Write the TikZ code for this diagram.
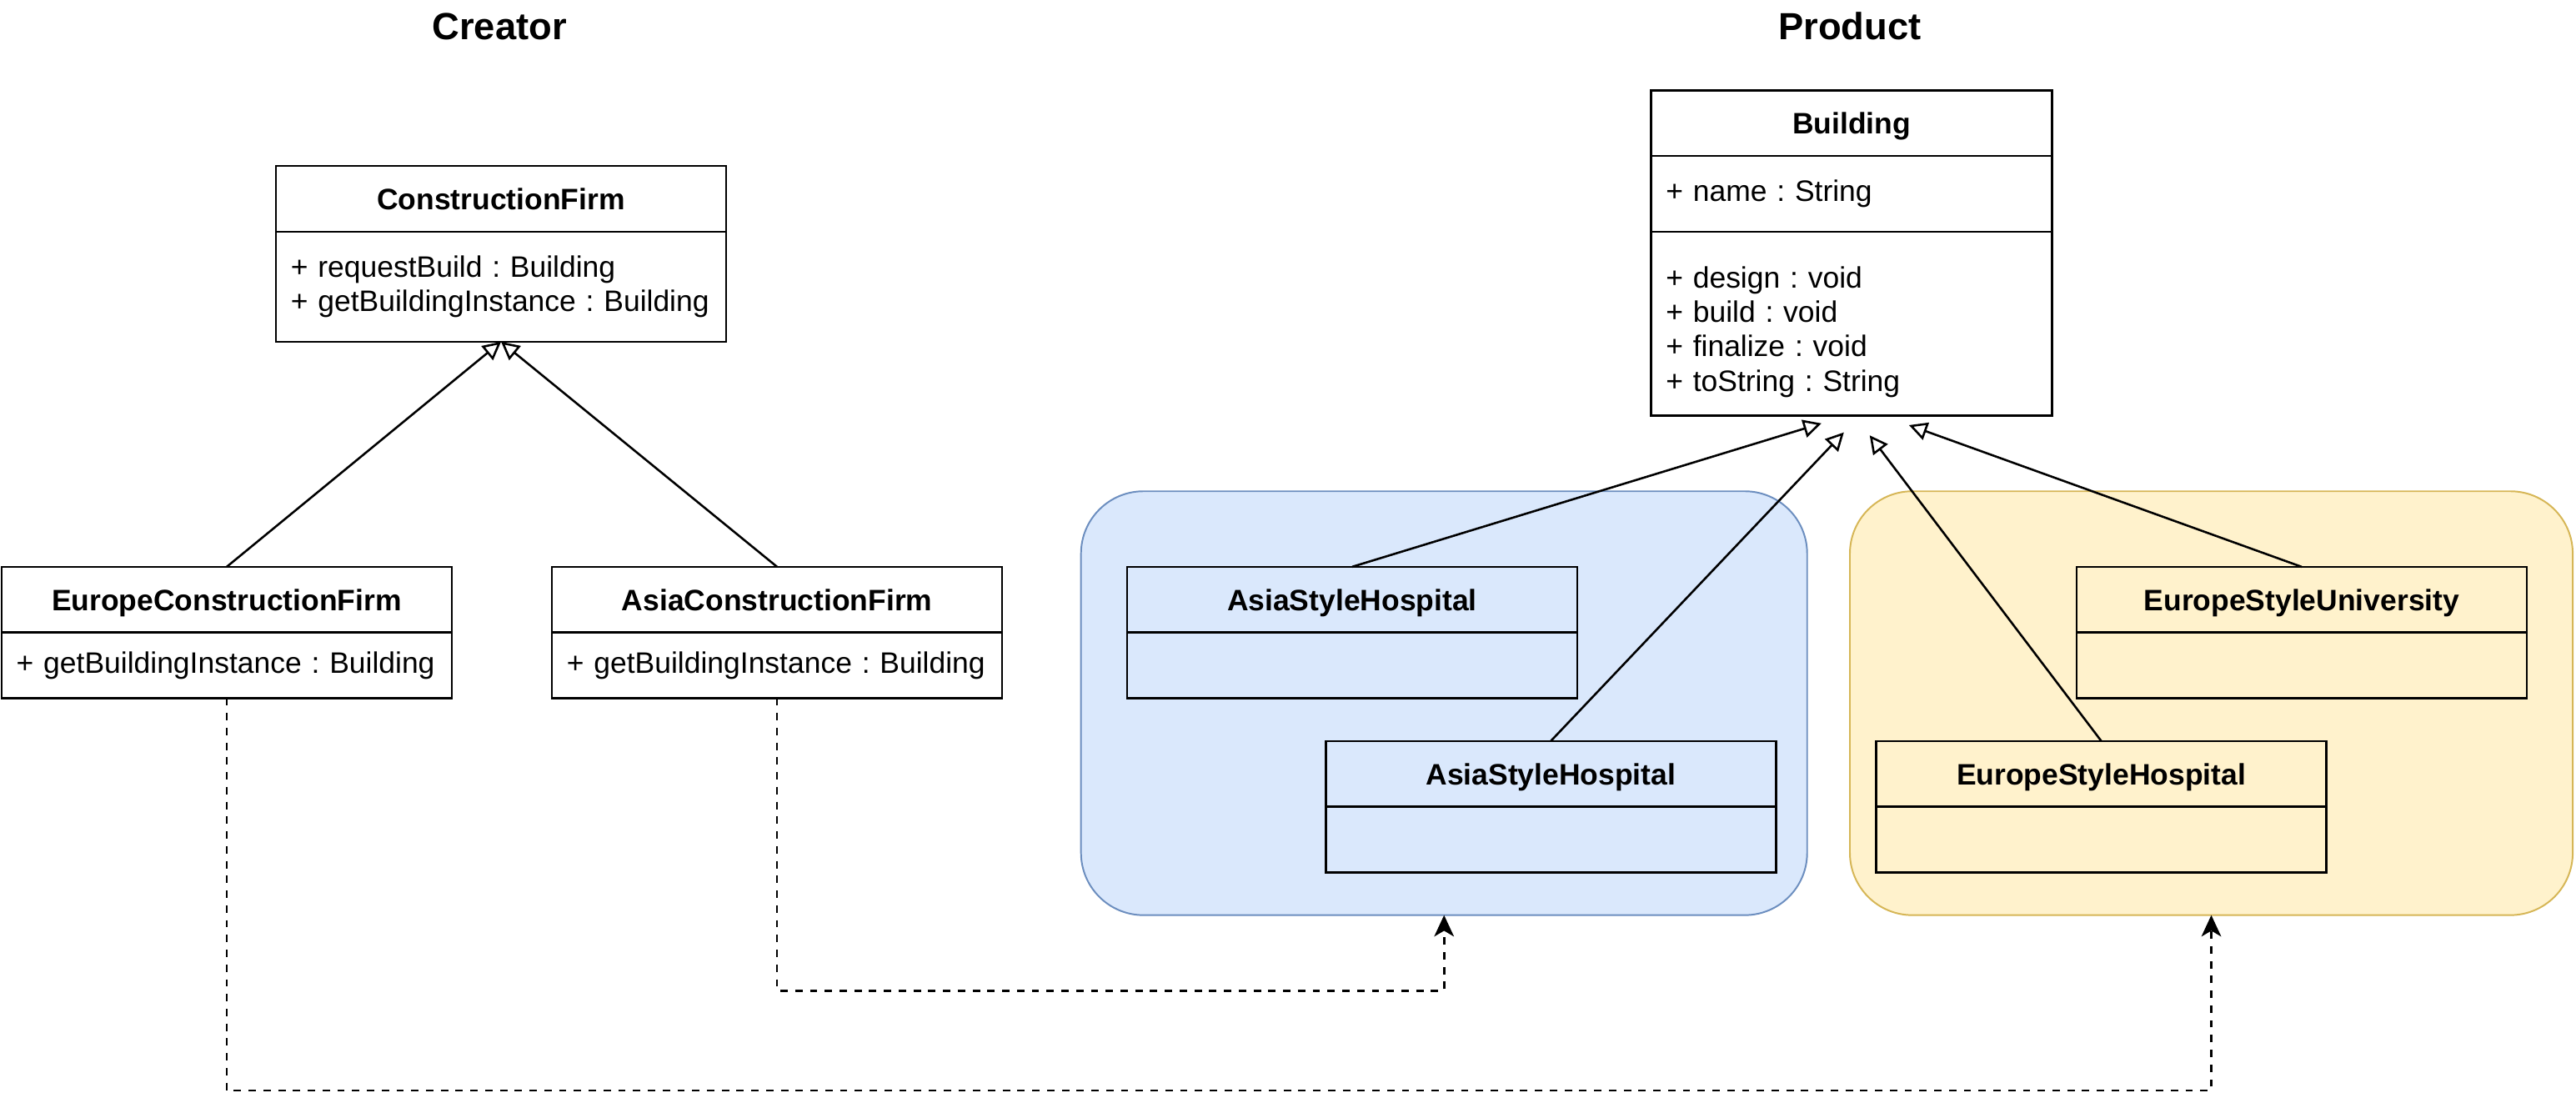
\documentclass[tikz,border=0pt]{standalone}
\usepackage{fontspec}
\setmainfont{Liberation Sans}
\usetikzlibrary{positioning,arrows.meta}

\definecolor{asiafill}{HTML}{DAE8FC}
\definecolor{asiadraw}{HTML}{6C8EBF}
\definecolor{eurofill}{HTML}{FFF2CC}
\definecolor{eurodraw}{HTML}{D6B656}

\frenchspacing
\hyphenpenalty=10000
\exhyphenpenalty=10000

\begin{document}
\begin{tikzpicture}[x=1pt, y=-1pt,
	every node/.style={draw=black, line width=1.3pt, outer sep=0pt, inner sep=0pt, font=\fontsize{18}{21}\selectfont},
	head/.style={minimum width=274pt, minimum height=40pt, anchor=north west, text height=13pt, text depth=0pt, font=\fontsize{18}{21}\selectfont\bfseries},
	body/.style={minimum height=40pt, text width=256pt, inner xsep=9pt, align=left},
	group/.style={rounded corners=38pt, line width=1pt, anchor=north west, minimum height=258pt},
	title/.style={draw=none, font=\fontsize{23}{27}\selectfont\bfseries},
	inherit/.style={draw=black, line width=1.3pt, -{Triangle[open, length=11pt, width=11pt]}},
	dep/.style={draw=black, line width=1.3pt, dash pattern=on 4.5pt off 4.5pt, -{Stealth[length=13pt, width=12pt, inset=3.5pt]}}]
			\useasboundingbox (0,0) rectangle (1568,677.4);
			
			\node[title] (text1) at (304,16){Creator};
			\node[title] (text2) at (1126,16){Product};
			
			\node[group, draw=asiadraw, fill=asiafill, minimum width=442pt] (asia) at (658,299){};
			\node[group, draw=eurodraw, fill=eurofill, minimum width=440pt] (europe) at (1126,299){};
			
			\node[head] (cf) at (168,101){ConstructionFirm};
			\node[body, below=0pt of cf, minimum height=67pt] (cf-ops){+ requestBuild : Building\\+ getBuildingInstance : Building};
			\node[head] (ecf) at (1,345){EuropeConstructionFirm};
			\node[body, below=0pt of ecf] (ecf-ops){+ getBuildingInstance : Building};
			\node[head] (acf) at (336,345){AsiaConstructionFirm};
			\node[body, below=0pt of acf] (acf-ops){+ getBuildingInstance : Building};
			
			\node[head, minimum width=244pt] (b) at (1005,55){Building};
			\node[body, below=0pt of b, text width=226pt, minimum height=46pt] (b-attr){+ name : String};
			\node[body, below=0pt of b-attr, text width=226pt, minimum height=112pt] (b-ops){\rule{0pt}{23pt}+ design : void\\+ build : void\\+ finalize : void\\+ toString : String};
			
			\node[head] (ash1) at (686,345){AsiaStyleHospital};
			\node[body, below=0pt of ash1] (ash1-ops){};
			\node[head] (ash2) at (807,451){AsiaStyleHospital};
			\node[body, below=0pt of ash2] (ash2-ops){};
			\node[head] (esu) at (1264,345){EuropeStyleUniversity};
			\node[body, below=0pt of esu] (esu-ops){};
			\node[head] (esh) at (1142,451){EuropeStyleHospital};
			\node[body, below=0pt of esh] (esh-ops){};
			
			\path (ecf.north) edge[inherit] (cf-ops.south);
			\path (acf.north) edge[inherit] (cf-ops.south);
			\path (ash1.north) edge[inherit, shorten >=16pt] ([xshift=-3pt]b-ops.south);
			\path (ash2.north) edge[inherit, shorten >=14pt] ([xshift=5pt]b-ops.south);
			\path (esh.north) edge[inherit, shorten >=15pt] ([xshift=2pt]b-ops.south);
			\path (esu.north) edge[inherit, shorten >=17pt] ([xshift=19pt]b-ops.south);
			
			\draw[dep] (acf-ops.south) |- ([yshift=-46pt]asia.south) -- (asia.south);
			\draw[dep] (ecf-ops.south) |- ([yshift=-106.7pt]europe.south) -- (europe.south);
\end{tikzpicture}
\end{document}
